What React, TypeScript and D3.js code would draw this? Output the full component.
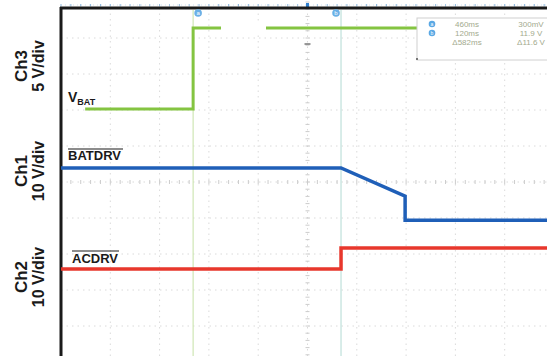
import React from "react";
import * as d3 from "d3";

// time in divisions, value in divisions from screen centre
const ch3Time = [0.49, 2.68, 2.68, 10.2];
const ch3Vals = [2.03, 2.03, 4.28, 4.28];
const ch1Time = [0, 5.68, 6.98, 6.98, 10.2];
const ch1Vals = [0.39, 0.39, -0.39, -1.06, -1.06];
const ch2Time = [0, 5.68, 5.68, 10.2];
const ch2Vals = [-2.42, -2.42, -1.83, -1.83];

const cursorTimes = [2.68, 5.68];
const cursorNames = ["a", "b"];
const measRow1 = ["460ms", "300mV"];
const measRow2 = ["120ms", "11.9 V"];
const measRow3 = ["\u0394582ms", "\u039411.6 V"];

const channelLabels = [
  { ch: "Ch3", scale: "5 V/div", center: 66 },
  { ch: "Ch1", scale: "10 V/div", center: 171 },
  { ch: "Ch2", scale: "10 V/div", center: 277 },
];

const W = 547;
const H = 356;

export default function App() {
  const x = d3.scaleLinear().domain([0, 10]).range([61, 554]);
  const y = d3.scaleLinear().domain([-4, 4]).range([326, 38]);
  const line = (ts: number[], vs: number[]) =>
    d3.line<number>().x((_, i) => x(ts[i])).y((v) => y(v))(vs) as string;

  const vGrid = d3.range(1, 10);
  const hGrid = d3.range(-4, 5);
  const minorX = d3.range(0, 10.01, 0.2);
  const minorY = d3.range(-5, 5.01, 0.2);
  const topTicks = d3.range(0, 10.01, 0.2);
  const font = "Liberation Sans, Arial, sans-serif";

  return (
    <div style={{ position: "absolute", left: 0, top: 0 }}>
      <svg width={W} height={H} style={{ display: "block", background: "#fff" }}>
        {/* grid */}
        {vGrid.map((d) => (
          <line key={"v" + d} x1={x(d)} x2={x(d)} y1={8} y2={H} stroke="#dadada" strokeWidth={1} strokeDasharray="1.5,4" />
        ))}
        {hGrid.map((d) => (
          <line key={"h" + d} x1={61} x2={W} y1={y(d)} y2={y(d)} stroke="#dadada" strokeWidth={1} strokeDasharray="1.5,4" />
        ))}
        {/* centre axis minor ticks */}
        {minorY.map((d) => (
          <line key={"my" + d} x1={x(5) - 2} x2={x(5) + 2} y1={y(d)} y2={y(d)} stroke="#cccccc" strokeWidth={1} />
        ))}
        {minorX.map((d) => (
          <line key={"mx" + d} x1={x(d)} x2={x(d)} y1={y(0) - 2} y2={y(0) + 2} stroke="#cccccc" strokeWidth={1} />
        ))}
        {/* cursors */}
        <line x1={x(cursorTimes[0])} x2={x(cursorTimes[0])} y1={10} y2={H} stroke="#cfe6b4" strokeWidth={1.2} />
        <line x1={x(cursorTimes[1])} x2={x(cursorTimes[1])} y1={10} y2={H} stroke="#bfe0da" strokeWidth={1.2} />
        {/* top ruler */}
        {topTicks.map((d) => (
          <line key={"tt" + d} x1={x(d)} x2={x(d)} y1={4} y2={6.5} stroke="#8fb9de" strokeWidth={1} />
        ))}
        <line x1={61} x2={W} y1={5} y2={5} stroke="#c5dcef" strokeWidth={0.8} strokeDasharray="1,3" />
        <rect x={x(5) - 1.5} y={3} width={3} height={4} fill="#2f7fd0" />
        {/* frame */}
        <line x1={60} x2={W} y1={8} y2={8} stroke="#1a1a1a" strokeWidth={3} />
        <line x1={61} x2={61} y1={7} y2={H} stroke="#1a1a1a" strokeWidth={3} />
        {/* traces */}
        <path d={line(ch3Time, ch3Vals)} fill="none" stroke="#84c441" strokeWidth={3} />
        <path d={line(ch1Time, ch1Vals)} fill="none" stroke="#1f5fb8" strokeWidth={3.5} />
        <path d={line(ch2Time, ch2Vals)} fill="none" stroke="#e8372c" strokeWidth={3.5} />
        {/* blanked area */}
        <rect x={221} y={21} width={45} height={12} fill="#fff" />
        {/* trigger level marker */}
        <line x1={x(5) - 3} x2={x(5) + 3} y1={44} y2={44} stroke="#555" strokeWidth={1.2} />
        {/* cursor markers */}
        {cursorTimes.map((t, i) => (
          <g key={"cm" + i} transform={`translate(${x(t) + (i === 0 ? 5 : -5)},13)`}>
            <circle r={3.8} fill="#6ab0e6" />
            <text fontSize={6} textAnchor="middle" dy={2} fill="#fff" fontFamily={font}>{cursorNames[i]}</text>
          </g>
        ))}
        {/* measurement box */}
        <rect x={417} y={18} width={140} height={42} fill="#fff" stroke="#d0d0d0" strokeWidth={1} />
        <rect x={416} y={58} width={2} height={2} fill="#777" />
        {[0, 1].map((i) => (
          <g key={"mi" + i} transform={`translate(432,${24 + i * 9})`}>
            <circle r={3.3} fill="#5aa8e4" />
            <text fontSize={5} textAnchor="middle" dy={1.8} fill="#fff" fontFamily={font}>{cursorNames[i]}</text>
          </g>
        ))}
        {[measRow1, measRow2, measRow3].map((row, i) => (
          <g key={"mr" + i} fontFamily={font} fontSize={8} fill="#a3aa8e">
            <text x={467} y={27 + i * 9} textAnchor="middle">{row[0]}</text>
            <text x={531} y={27 + i * 9} textAnchor="middle">{row[1]}</text>
          </g>
        ))}
        {/* signal labels */}
        <text x={68} y={102} fontFamily={font} fontWeight="bold" fontSize={14} fill="#1a1a1a">
          V<tspan fontSize={9} dy={3}>BAT</tspan>
        </text>
        <text x={68} y={160} fontFamily={font} fontWeight="bold" fontSize={13} fill="#1a1a1a">BATDRV</text>
        <line x1={68} x2={123} y1={149} y2={149} stroke="#1a1a1a" strokeWidth={1.2} />
        <text x={72} y={263} fontFamily={font} fontWeight="bold" fontSize={13} fill="#1a1a1a">ACDRV</text>
        <line x1={72} x2={119} y1={251} y2={251} stroke="#1a1a1a" strokeWidth={1.2} />
        {/* channel labels */}
        {channelLabels.map((c) => (
          <g key={c.ch} fontFamily={font} fontWeight="bold" fill="#1a1a1a" textAnchor="middle">
            <text transform={`translate(27,${c.center}) rotate(-90)`} fontSize={17}>{c.ch}</text>
            <text transform={`translate(44,${c.center}) rotate(-90)`} fontSize={16}>{c.scale}</text>
          </g>
        ))}
      </svg>
    </div>
  );
}
